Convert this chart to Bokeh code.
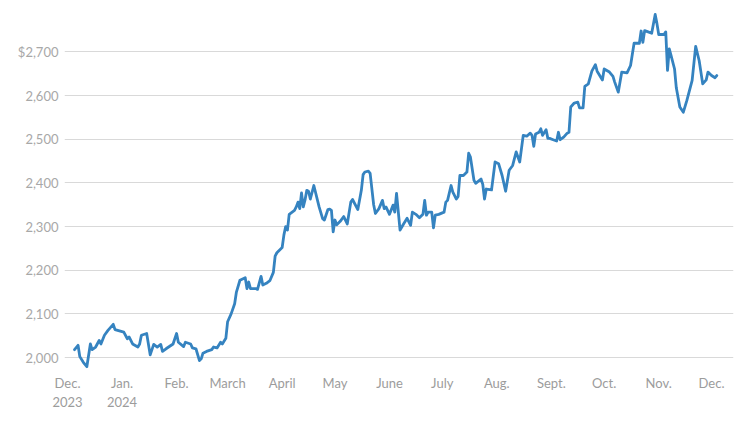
import pandas as pd
from bokeh.plotting import figure
from bokeh.models import Range1d, FixedTicker, NumeralTickFormatter, ColumnDataSource
from bokeh.embed import file_html
from bokeh.resources import INLINE

dates = [
    "2023-12-05", "2023-12-07", "2023-12-08", "2023-12-10", "2023-12-12", "2023-12-14", "2023-12-15",
    "2023-12-17", "2023-12-19", "2023-12-20", "2023-12-22", "2023-12-24", "2023-12-27", "2023-12-28",
    "2024-01-02", "2024-01-04", "2024-01-05", "2024-01-07", "2024-01-10", "2024-01-11", "2024-01-12",
    "2024-01-15", "2024-01-17", "2024-01-19", "2024-01-21", "2024-01-23", "2024-01-24", "2024-01-26",
    "2024-01-30", "2024-02-01", "2024-02-02", "2024-02-05", "2024-02-06", "2024-02-09", "2024-02-10",
    "2024-02-12", "2024-02-14", "2024-02-15", "2024-02-16", "2024-02-18", "2024-02-21", "2024-02-22",
    "2024-02-24", "2024-02-26", "2024-02-27", "2024-02-29", "2024-03-01", "2024-03-03", "2024-03-05",
    "2024-03-06", "2024-03-08", "2024-03-11", "2024-03-12", "2024-03-13", "2024-03-14", "2024-03-17",
    "2024-03-18", "2024-03-20", "2024-03-21", "2024-03-23", "2024-03-25", "2024-03-27", "2024-03-28",
    "2024-03-29", "2024-04-01", "2024-04-02", "2024-04-03", "2024-04-04", "2024-04-05", "2024-04-08",
    "2024-04-09", "2024-04-10", "2024-04-11", "2024-04-12", "2024-04-13", "2024-04-14", "2024-04-15",
    "2024-04-16", "2024-04-17", "2024-04-19", "2024-04-22", "2024-04-24", "2024-04-25", "2024-04-27",
    "2024-04-28", "2024-04-29", "2024-04-30", "2024-05-01", "2024-05-02", "2024-05-04", "2024-05-06",
    "2024-05-08", "2024-05-10", "2024-05-11", "2024-05-14", "2024-05-16", "2024-05-17", "2024-05-18",
    "2024-05-20", "2024-05-21", "2024-05-23", "2024-05-24", "2024-05-26", "2024-05-28", "2024-05-29",
    "2024-05-30", "2024-06-01", "2024-06-03", "2024-06-04", "2024-06-05", "2024-06-07", "2024-06-09",
    "2024-06-11", "2024-06-13", "2024-06-14", "2024-06-16", "2024-06-18", "2024-06-20", "2024-06-21",
    "2024-06-22", "2024-06-23", "2024-06-25", "2024-06-26", "2024-06-27", "2024-06-29", "2024-07-02",
    "2024-07-03", "2024-07-04", "2024-07-06", "2024-07-07", "2024-07-09", "2024-07-10", "2024-07-11",
    "2024-07-13", "2024-07-15", "2024-07-16", "2024-07-17", "2024-07-19", "2024-07-20", "2024-07-23",
    "2024-07-24", "2024-07-25", "2024-07-26", "2024-07-29", "2024-07-31", "2024-08-02", "2024-08-04",
    "2024-08-06", "2024-08-08", "2024-08-10", "2024-08-12", "2024-08-14", "2024-08-16", "2024-08-18",
    "2024-08-20", "2024-08-21", "2024-08-22", "2024-08-23", "2024-08-25", "2024-08-26", "2024-08-27",
    "2024-08-29", "2024-08-30", "2024-08-31", "2024-09-02", "2024-09-04", "2024-09-05", "2024-09-06",
    "2024-09-08", "2024-09-10", "2024-09-11", "2024-09-12", "2024-09-14", "2024-09-16", "2024-09-17",
    "2024-09-19", "2024-09-20", "2024-09-22", "2024-09-24", "2024-09-26", "2024-09-27", "2024-09-30",
    "2024-10-01", "2024-10-04", "2024-10-06", "2024-10-07", "2024-10-09", "2024-10-11", "2024-10-14",
    "2024-10-16", "2024-10-18", "2024-10-21", "2024-10-22", "2024-10-23", "2024-10-24", "2024-10-26",
    "2024-10-28", "2024-10-30", "2024-10-31", "2024-11-01", "2024-11-04", "2024-11-05", "2024-11-06",
    "2024-11-07", "2024-11-08", "2024-11-10", "2024-11-11", "2024-11-13", "2024-11-15", "2024-11-17",
    "2024-11-20", "2024-11-22", "2024-11-24", "2024-11-26", "2024-11-28", "2024-11-29", "2024-12-01",
    "2024-12-03", "2024-12-04",
]

prices = [
    2018, 2028, 2002, 1989, 1979, 2031, 2018,
    2024, 2039, 2031, 2051, 2062, 2076, 2064,
    2058, 2043, 2047, 2031, 2024, 2031, 2051,
    2055, 2006, 2030, 2024, 2030, 2014, 2020,
    2031, 2055, 2035, 2025, 2035, 2031, 2022,
    2020, 1993, 1997, 2010, 2014, 2018, 2024,
    2022, 2035, 2031, 2044, 2082, 2100, 2123,
    2150, 2177, 2183, 2158, 2173, 2158, 2158,
    2156, 2186, 2166, 2170, 2176, 2195, 2232,
    2240, 2252, 2281, 2300, 2292, 2328, 2337,
    2345, 2356, 2341, 2377, 2345, 2361, 2383,
    2381, 2363, 2394, 2345, 2318, 2315, 2339,
    2340, 2337, 2288, 2315, 2304, 2312, 2323,
    2306, 2356, 2362, 2339, 2383, 2419, 2425,
    2427, 2422, 2350, 2330, 2341, 2360, 2341,
    2345, 2328, 2349, 2333, 2376, 2292, 2306,
    2319, 2303, 2333, 2328, 2320, 2328, 2360,
    2326, 2333, 2333, 2297, 2326, 2328, 2333,
    2356, 2360, 2394, 2379, 2363, 2369, 2417,
    2417, 2425, 2468, 2459, 2406, 2399, 2409,
    2397, 2363, 2386, 2384, 2448, 2444, 2417,
    2381, 2429, 2440, 2471, 2448, 2509, 2507,
    2514, 2509, 2484, 2512, 2516, 2524, 2509,
    2522, 2502, 2502, 2499, 2496, 2516, 2499,
    2505, 2514, 2516, 2574, 2583, 2585, 2572,
    2572, 2621, 2627, 2656, 2671, 2656, 2636,
    2661, 2654, 2644, 2631, 2608, 2654, 2652,
    2669, 2720, 2720, 2748, 2722, 2749, 2746,
    2743, 2786, 2765, 2740, 2740, 2746, 2658,
    2707, 2692, 2661, 2618, 2574, 2562, 2589,
    2635, 2713, 2680, 2627, 2636, 2654, 2646,
    2641, 2646,
]

month_ticks = [
    "2023-12-01", "2024-01-01", "2024-02-01", "2024-03-01", "2024-04-01", "2024-05-01", "2024-06-01",
    "2024-07-01", "2024-08-01", "2024-09-01", "2024-10-01", "2024-11-01", "2024-12-01",
]
month_labels = [
    "Dec.\n2023", "Jan.\n2024", "Feb.", "March", "April", "May", "June",
    "July", "Aug.", "Sept.", "Oct.", "Nov.", "Dec.",
]
price_ticks = [2000, 2100, 2200, 2300, 2400, 2500, 2600, 2700]
price_labels = ["2,000", "2,100", "2,200", "2,300", "2,400", "2,500", "2,600", "$2,700"]

src = ColumnDataSource(dict(date=pd.to_datetime(dates), price=prices))

t0 = pd.Timestamp("2023-12-01")
p = figure(
    width=741, height=421, x_axis_type="datetime",
    output_backend="svg", toolbar_location=None,
    min_border_left=64, min_border_right=8, min_border_top=5, min_border_bottom=53,
)
p.x_range = Range1d(start=t0 - pd.Timedelta(days=1.7), end=t0 + pd.Timedelta(days=378.5))
p.y_range = Range1d(1974.8, 2806.5)

p.line("date", "price", source=src, line_color="#3583c0", line_width=2.8,
       line_join="round", line_cap="round")

tick_ms = [int(pd.Timestamp(d).value // 10**6) for d in month_ticks]
p.xaxis.ticker = FixedTicker(ticks=tick_ms)
p.xaxis.major_label_overrides = {t: lab for t, lab in zip(tick_ms, month_labels)}
p.yaxis.ticker = FixedTicker(ticks=price_ticks)
p.yaxis.formatter = NumeralTickFormatter(format="0,0")
p.yaxis.major_label_overrides = {t: lab for t, lab in zip(price_ticks, price_labels)}

for ax in (p.xaxis, p.yaxis):
    ax.axis_line_color = None
    ax.major_tick_line_color = None
    ax.minor_tick_line_color = None
    ax.major_tick_out = 0
    ax.major_tick_in = 0
    ax.minor_tick_out = 0
    ax.major_label_text_font = "Lato"
    ax.major_label_text_font_size = "13px"
    ax.major_label_standoff = 6

p.yaxis.major_label_text_color = "#a8a8a8"
p.xaxis.major_label_text_color = "#9c9c9c"

p.xgrid.visible = False
p.ygrid.grid_line_color = "#d9d9d9"
p.ygrid.grid_line_width = 1
p.outline_line_color = None
p.background_fill_color = "white"
p.border_fill_color = "white"

open("out.html", "w").write(file_html(p, INLINE))
